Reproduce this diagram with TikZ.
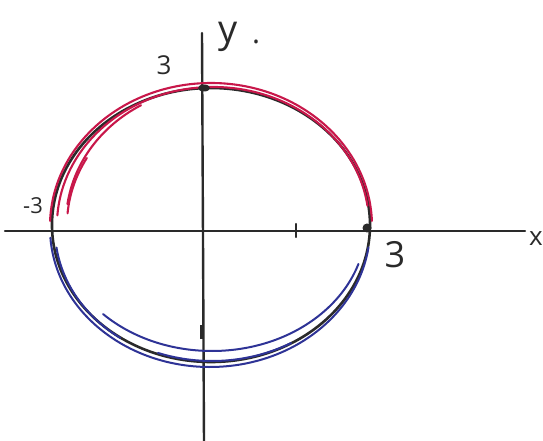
\documentclass[tikz,border=0pt]{standalone}
\usepackage{fontspec}
\setmainfont{Open Sans}
\usepackage{tikz}
\usetikzlibrary{calc}
\definecolor{penblack}{HTML}{2A2A2A}
\definecolor{penred}{HTML}{C8174A}
\definecolor{penblue}{HTML}{2E3396}
\tikzset{
  axisline/.style={draw=penblack,line width=2.4pt,line cap=round},
  curveblack/.style={draw=penblack,line width=2.6pt},
  curvered/.style={draw=penred,line width=2.1pt,line cap=round},
  curveblue/.style={draw=penblue,line width=2pt,line cap=round},
  handlabel/.style={text=penblack,inner sep=0pt}
}

\begin{document}
\begin{tikzpicture}[x=1pt,y=1pt]
\useasboundingbox (-204,-210) rectangle (339,231);
% axes
\coordinate (xl) at (-199,0);
\coordinate (xr) at (321,0);
\coordinate (yt) at (-2,198);
\coordinate (yb) at (0,-212);
\draw[axisline] (xl) -- (xr);
\draw[axisline] (yt) -- (yb);
\draw[axisline] (92,-6) -- (92,7);
\draw[penblack,line width=3.5pt] (-2,-94) -- (-2,-108);
% circle, black pass
\coordinate (c) at (7,6);
\draw[curveblack] (c) ellipse[x radius=159,y radius=137];
% upper half in red
\draw[curvered] ($(7,5)+(2:161 and 143)$) arc[start angle=2,end angle=178,x radius=161,y radius=143];
\draw[curvered] ($(9,6)+(8:156 and 138)$) arc[start angle=8,end angle=176,x radius=156,y radius=138];
\draw[curvered] ($(11,6)+(150:148 and 134)$) arc[start angle=150,end angle=175,x radius=148,y radius=134];
\draw[curvered] ($(12,8)+(120:150 and 136)$) arc[start angle=120,end angle=172,x radius=150,y radius=136];
% lower half in blue
\draw[curveblue] ($(6,3)+(184:160 and 139)$) arc[start angle=184,end angle=352,x radius=160,y radius=139];
\draw[curveblue] ($(8,6)+(225:154 and 126)$) arc[start angle=225,end angle=342,x radius=154,y radius=126];
\draw[curveblue] ($(4,2)+(188:153 and 133)$) arc[start angle=188,end angle=235,x radius=153,y radius=133];
\draw[curveblue] ($(8,4)+(250:158 and 134)$) arc[start angle=250,end angle=300,x radius=158,y radius=134];
% marked points
\fill[penblack] (0,143) ellipse[x radius=6,y radius=3.5];
\fill[penblack] (163,3) circle[radius=4.5];
% labels
\node[handlabel,font=\fontsize{38}{38}\selectfont] (ylab) at (24,194) {y};
\node[handlabel,font=\fontsize{30}{30}\selectfont] (ydot) at (52,189) {.};
\node[handlabel,font=\fontsize{26}{26}\selectfont] (ytop) at (-40,166) {3};
\node[handlabel,font=\fontsize{22}{22}\selectfont] (xneg) at (-171,25) {-3};
\node[handlabel,font=\fontsize{36}{36}\selectfont] (xpos) at (191,-24) {3};
\node[handlabel,font=\fontsize{26}{26}\selectfont,anchor=east] (xlab) at (339,-8) {x};
\end{tikzpicture}
\end{document}
